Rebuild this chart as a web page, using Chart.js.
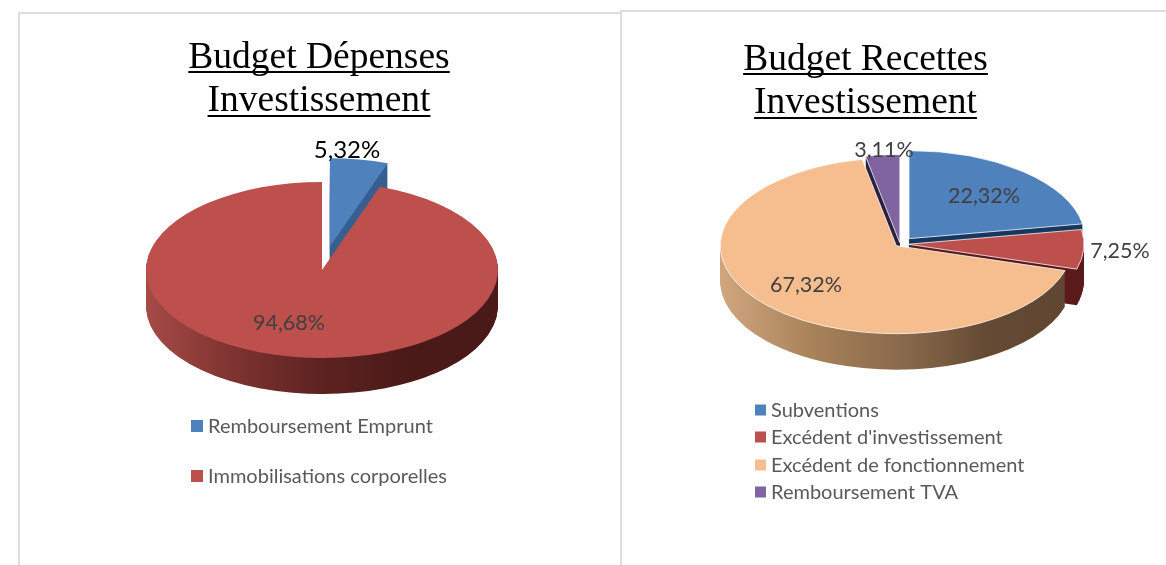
<!DOCTYPE html>
<html><head><meta charset="utf-8">
<script src="https://cdn.jsdelivr.net/npm/chart.js@4"></script>
<style>
html,body{margin:0;padding:0;background:#fff;overflow:hidden}
#stage{position:relative;width:1166px;height:565px}
canvas{position:absolute;top:0}
.p{position:absolute;border:solid #dedede;box-sizing:border-box}
</style></head><body>
<div id="stage">
<div class="p" style="left:18px;top:12px;width:604px;height:560px;border-width:2px 2px 0 2px"></div>
<div class="p" style="left:620px;top:10px;width:560px;height:560px;border-width:2px 0 0 2px"></div>
<canvas id="c1" width="638" height="565" style="left:0"></canvas>
<canvas id="c2" width="601" height="565" style="left:565px"></canvas>
</div>
<script>
// ---- data ----
const depensesCategories = ['Remboursement Emprunt', 'Immobilisations corporelles'];
const depensesValues = [5.32, 94.68];
const depensesLabels = ['5,32%', '94,68%'];
const recettesCategories = ['Subventions', "Excédent d'investissement", 'Excédent de fonctionnement', 'Remboursement TVA'];
const recettesValues = [22.32, 7.25, 67.32, 3.11];
const recettesLabels = ['22,32%', '7,25%', '67,32%', '3,11%'];
const depensesTitle = ['Budget Dépenses', 'Investissement'];
const recettesTitle = ['Budget Recettes', 'Investissement'];

const TEXT_FONT = 'Lato, Carlito, "Open Sans", sans-serif';
const SQUASH = 0.5, DEPTH = 36, RADIUS = 176;

const plugin3d = {
  id: 'pie3d',
  afterDatasetsUpdate(chart) {
    // Explode the slices along their own mid-angle, from the library's centre.
    const o = chart.options.plugins.pie3d;
    const arcs = chart.getDatasetMeta(0).data;
    chart.$base = {x: arcs[0].x, y: arcs[0].y};
    arcs.forEach((a, i) => {
      const mid = (a.startAngle + a.endAngle) / 2;
      a.x = chart.$base.x + Math.cos(mid) * o.explode[i];
      a.y = chart.$base.y + Math.sin(mid) * o.explode[i];
    });
  },
  beforeDatasetDraw(chart) {
    const o = chart.options.plugins.pie3d, ctx = chart.ctx, base = chart.$base;
    const arcs = chart.getDatasetMeta(0).data.map((a, i) => ({a, i}));
    // back slices first
    arcs.sort((p, q) => Math.sin((p.a.startAngle + p.a.endAngle) / 2) - Math.sin((q.a.startAngle + q.a.endAngle) / 2));
    for (const {a, i} of arcs) {
      const stops = o.sides[i];
      for (let d = DEPTH; d >= 1; d--) {
        ctx.save();
        ctx.translate(o.cx, o.cy + d);
        ctx.scale(1, SQUASH);
        ctx.translate(-base.x, -base.y);
        const g = ctx.createLinearGradient(base.x - RADIUS, 0, base.x + RADIUS, 0);
        stops.forEach((c, k) => g.addColorStop(k / (stops.length - 1), c));
        const shadow = Object.create(a);
        shadow.options = {...a.options, backgroundColor: g, borderWidth: 0};
        a.draw.call(shadow, ctx, chart.chartArea);
        ctx.restore();
      }
    }
    ctx.save();
    ctx.translate(o.cx, o.cy);
    ctx.scale(1, SQUASH);
    ctx.translate(-base.x, -base.y);
  },
  afterDatasetDraw(chart) { chart.ctx.restore(); },
  afterDraw(chart) {
    const o = chart.options.plugins.pie3d, ctx = chart.ctx;
    // title underlines
    const t = chart.options.plugins.title;
    ctx.save();
    ctx.font = t.font.size + 'px ' + t.font.family;
    ctx.fillStyle = '#000';
    t.text.forEach((line, i) => {
      const w = ctx.measureText(line).width;
      ctx.fillRect(chart.width / 2 - w / 2, o.ulY[i], w, 2);
    });
    // data labels
    ctx.textAlign = 'center';
    ctx.textBaseline = 'middle';
    o.labels.forEach((s, i) => {
      ctx.font = o.labelSizes[i] + 'px ' + TEXT_FONT;
      ctx.fillStyle = o.labelColors[i];
      ctx.fillText(s, o.labelPos[i][0], o.labelPos[i][1]);
    });
    // legend
    ctx.textAlign = 'left';
    ctx.font = o.legend.size + 'px ' + TEXT_FONT;
    chart.data.labels.forEach((s, i) => {
      const y = o.legend.rows[i];
      ctx.fillStyle = chart.data.datasets[0].backgroundColor[i];
      ctx.fillRect(o.legend.x, y - o.legend.box / 2, o.legend.box, o.legend.box);
      ctx.fillStyle = '#595959';
      ctx.fillText(s, o.legend.x + o.legend.box + 5, y + 1);
    });
    ctx.restore();
  }
};

function make(id, cats, vals, colors, borderW, title, titleTop, pie3d) {
  return new Chart(document.getElementById(id), {
    type: 'pie',
    plugins: [plugin3d],
    data: {labels: cats, datasets: [{
      data: vals, backgroundColor: colors, borderColor: '#fff', borderWidth: borderW,
      radius: RADIUS, clip: false
    }]},
    options: {
      responsive: false, animation: false,
      layout: {padding: 0},
      plugins: {
        legend: {display: false}, tooltip: {enabled: false},
        title: {display: true, text: title, color: '#000',
          font: {family: '"Liberation Serif", serif', size: 37.5, weight: 'normal', lineHeight: 43/37.5},
          padding: {top: titleTop, bottom: 0}},
        pie3d
      }
    }
  });
}

make('c1', depensesCategories, depensesValues, ['#4f81bd', '#bd4f4c'], 0, depensesTitle, 37, {
  cx: 322, cy: 270, ulY: [71, 115], explode: [48, 0],
  sides: [['#355f90', '#355f90'], ['#a64a47', '#7e3330', '#5c2220', '#4a1a18', '#4a1a18']],
  labels: depensesLabels, labelColors: ['#000', '#404040'], labelSizes: [24, 21.5], labelPos: [[347, 150], [289, 323]],
  legend: {x: 191, box: 12, size: 20, rows: [426, 476]}
});
make('c2', recettesCategories, recettesValues, ['#4f81bd', '#bd4f4c', '#f6bd8f', '#8064a2'], 1, recettesTitle, 39, {
  cx: 900 - 565, cy: 244, ulY: [73, 117], explode: [14, 8, 5, 3],
  sides: [['#17375e', '#17375e'], ['#5a1a1c', '#5a1a1c'], ['#cfa57e', '#a88259', '#8a6a4c', '#644a33', '#5f4632'], ['#2d2140', '#2d2140']],
  labels: recettesLabels, labelColors: ['#404040', '#404040', '#404040', '#404040'], labelSizes: [21.5, 21.5, 21.5, 21.5],
  labelPos: [[984 - 565, 196], [1120 - 565, 251], [806 - 565, 285], [884 - 565, 150]],
  legend: {x: 755 - 565, box: 11, size: 20, rows: [410, 437, 465, 492]}
});
</script>
</body></html>
